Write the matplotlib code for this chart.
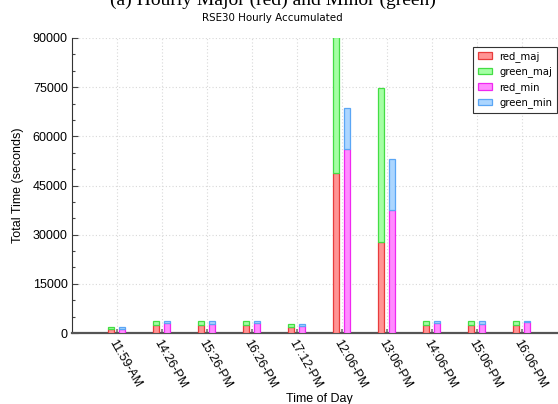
import numpy as np
import matplotlib
matplotlib.use("Agg")
import matplotlib.pyplot as plt
from matplotlib.ticker import MultipleLocator
from matplotlib.legend_handler import HandlerPatch
from matplotlib.patches import Rectangle

# Hourly accumulated time per category
times = ["11:59-AM", "14:26-PM", "15:26-PM", "16:26-PM", "17:12-PM",
         "12:06-PM", "13:06-PM", "14:06-PM", "15:06-PM", "16:06-PM"]
red_maj = [1320, 2340, 2540, 2540, 1930, 48800, 27800, 2440, 2440, 2340]
green_maj = [610, 1220, 1120, 1120, 920, 41500, 46950, 1220, 1220, 1320]
red_min = [1220, 2950, 2850, 3050, 2240, 56200, 37600, 3050, 2850, 3250]
green_min = [710, 810, 810, 710, 610, 12450, 15400, 710, 910, 510]

W, H = 558, 404
fig = plt.figure(figsize=(W / 100, H / 100), dpi=100)

left, right, top, bottom = 72, 567, 38, 333
ax = fig.add_axes([left / W, 1 - bottom / H, (right - left) / W, (bottom - top) / H])

x = np.arange(len(times))
bw = 0.118
off_maj, off_min = -0.133, 0.112

face = {"red_maj": "#ff9494", "green_maj": "#a4ffa4",
        "red_min": "#ff8cff", "green_min": "#acd6ff"}
edge = {"red_maj": "#e83c3c", "green_maj": "#44dd44",
        "red_min": "#f028f0", "green_min": "#5aa6f5"}

h1 = ax.bar(x + off_maj, red_maj, bw, color=face["red_maj"], edgecolor=edge["red_maj"],
            linewidth=0.9, label="red_maj", zorder=3)
h2 = ax.bar(x + off_maj, green_maj, bw, bottom=red_maj, color=face["green_maj"],
            edgecolor=edge["green_maj"], linewidth=0.9, label="green_maj", zorder=3)
h3 = ax.bar(x + off_min, red_min, bw, color=face["red_min"], edgecolor=edge["red_min"],
            linewidth=0.9, label="red_min", zorder=3)
h4 = ax.bar(x + off_min, green_min, bw, bottom=red_min, color=face["green_min"],
            edgecolor=edge["green_min"], linewidth=0.9, label="green_min", zorder=3)

ax.set_xlim(-1, 10)
ax.set_ylim(0, 90000)
ax.yaxis.set_major_locator(MultipleLocator(15000))
ax.yaxis.set_minor_locator(MultipleLocator(5000))
ax.set_xticks(x)

tick_font = dict(family="Liberation Sans", size=9)
ax.set_xticklabels(times, rotation=-60, ha="left", va="top",
                   rotation_mode="anchor", **tick_font)
for lab in ax.get_yticklabels():
    lab.set_fontfamily("Liberation Sans")
    lab.set_fontsize(9)

ax.tick_params(axis="both", which="both", direction="in", color="#444444")
ax.tick_params(axis="y", which="major", length=4, width=0.8, pad=3)
ax.tick_params(axis="y", which="minor", length=2, width=0.8)
ax.tick_params(axis="x", which="major", length=3, width=1.2, pad=3, color="#777777")

ax.grid(True, which="major", color="#d8d8d8", linestyle=(0, (1, 2)), linewidth=0.8, zorder=0)

for s in ("top", "right"):
    ax.spines[s].set_visible(False)
ax.spines["left"].set_color("#333333")
ax.spines["left"].set_linewidth(0.8)
ax.spines["bottom"].set_color("#555555")
ax.spines["bottom"].set_linewidth(1.6)

ax.set_xlabel("Time of Day", family="Liberation Sans", size=9, labelpad=2)
ax.set_ylabel("Total Time (seconds)", family="Liberation Sans", size=9, labelpad=6)


def small_swatch(legend, orig_handle, xdescent, ydescent, width, height, fontsize):
    # narrow colour swatch placed at the right end of the handle box
    sw = 0.85 * fontsize
    return Rectangle((width - sw - xdescent, -ydescent), sw, height)


leg = ax.legend(handles=[h1, h2, h3, h4], loc="upper left",
                bbox_to_anchor=((473 - left) / (right - left), (bottom - 46.5) / (bottom - top)),
                borderaxespad=0, prop=dict(family="DejaVu Sans", size=7.3),
                handlelength=1.45, handleheight=0.6, handletextpad=0.7,
                labelspacing=0.45, borderpad=0.45, fancybox=False, framealpha=1,
                handler_map={Rectangle: HandlerPatch(patch_func=small_swatch)})
leg.get_frame().set_edgecolor("#333333")
leg.get_frame().set_linewidth(0.8)

fig.text(272.5 / W, 1 - 18 / H, "RSE30 Hourly Accumulated", ha="center", va="center",
         family="DejaVu Sans", size=7.4)
fig.text(272.5 / W, 1 - 5 / H, "(a) Hourly Major (red) and Minor (green)",
         ha="center", va="baseline", family="Liberation Serif", size=14)

fig.savefig("out.png", dpi=100)
